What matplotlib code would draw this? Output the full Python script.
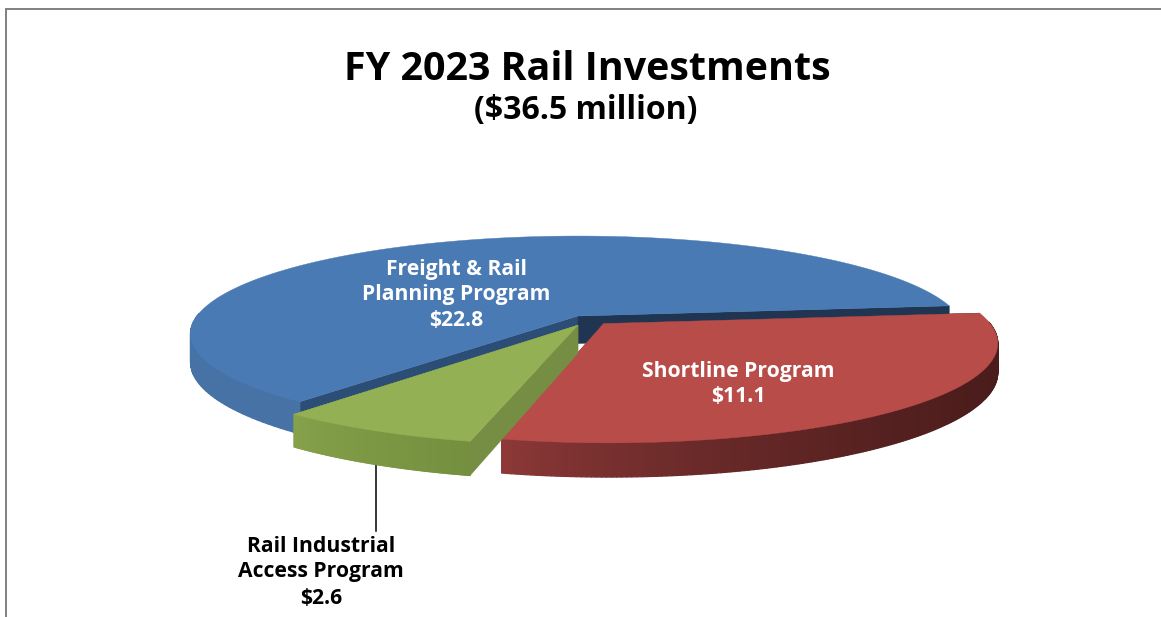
"""
Rail investments as an exploded 3D looking pie chart.
"""

import numpy as np
import matplotlib.pyplot as plt
from matplotlib.collections import PolyCollection
from matplotlib.colors import to_rgb
from matplotlib.patches import Polygon

title = "FY 2023 Rail Investments"
subtitle = "($36.5 million)"

# Data, clockwise from the right hand cut of the blue slice
categories = ["Shortline Program", "Rail Industrial\nAccess Program", "Freight & Rail\nPlanning Program"]
values = [11.1, 2.6, 22.8]

# Pie geometry in figure pixels
cx, cy = 578, 316
rx, ry = 381, 94.5
depth = 5.5      # perspective distance, in pie radii
thick = 27.5
start_angle = -6.3

offsets = [(0.066, 0.079), (0.0, 0.095), (0.0, 0.0)]
top_colors = ["#B84C49", "#93B054", "#4A7AB4"]
wall_start = ["#8F3A39", "#87A24B", "#4672A6"]
wall_end = ["#4A1C1B", "#74903F", "#4672A6"]
start_wall = ["#4A1C1B", "#768E44", "#2C4D75"]
end_wall = ["#4A1C1B", "#768E44", "#1F3552"]


def project(x, y, z=0.0):
    """Plan position (y towards the viewer) to figure pixels."""
    f = depth / (depth - y)
    return cx + rx * x * f, cy + ry * y * f + z * f


def slice_xy(a0, a1, off):
    t = np.radians(np.linspace(a0, a1, 180))
    return np.cos(t) + off[0], np.sin(t) + off[1], t


def draw_cut(ax, angle, off, color, zorder):
    # Flat wall running from the apex to the rim
    t = np.radians(angle)
    ax0, ay0 = project(off[0], off[1])
    bx0, by0 = project(np.cos(t) + off[0], np.sin(t) + off[1])
    ax1, ay1 = project(off[0], off[1], thick)
    bx1, by1 = project(np.cos(t) + off[0], np.sin(t) + off[1], thick)
    ax.add_patch(Polygon([(ax0, ay0), (bx0, by0), (bx1, by1), (ax1, ay1)],
                         closed=True, facecolor=color, edgecolor=color, lw=0.3, zorder=zorder))


def draw_slice(ax, a0, a1, off, i):
    base = 3 * i if i != 2 else 0
    xs, ys, t = slice_xy(a0, a1, off)

    # Cut faces go first, the rim and the top hide the parts that face away
    draw_cut(ax, a0, off, start_wall[i], base + 0.5)
    draw_cut(ax, a1, off, end_wall[i], base + 0.5)

    # Outer wall, one small strip per step so the shade can change along the rim
    px, py = project(xs, ys)
    qx, qy = project(xs, ys, thick)
    strips, shades = [], []
    c0, c1 = np.array(to_rgb(wall_start[i])), np.array(to_rgb(wall_end[i]))
    xmin, xmax = px.min(), px.max()
    for k in range(len(xs) - 1):
        if np.sin(t[k]) < -0.02:
            continue  # back of the rim is not visible
        strips.append([(px[k], py[k]), (px[k + 1], py[k + 1]), (qx[k + 1], qy[k + 1]), (qx[k], qy[k])])
        w = ((px[k] - xmin) / (xmax - xmin)) ** 0.7
        shades.append(c0 + (c1 - c0) * w)
    ax.add_collection(PolyCollection(strips, facecolors=shades, edgecolors=shades, linewidths=0.9, zorder=base + 1))

    # Top face
    apex = project(off[0], off[1])
    ax.add_patch(Polygon([apex] + list(zip(px, py)), closed=True, facecolor=top_colors[i],
                         edgecolor=top_colors[i], lw=0.3, zorder=base + 2))


fig = plt.figure(figsize=(11.61, 6.17), dpi=100)
ax = fig.add_axes([0, 0, 1, 1])
ax.set_xlim(0, 1161)
ax.set_ylim(617, 0)
ax.axis("off")

plt.rcParams["font.family"] = ["Open Sans", "DejaVu Sans"]

# Chart frame, only top and left are inside the crop
ax.plot([5.5, 5.5, 1161], [617, 8.5, 8.5], color="#808080", lw=1.4, solid_joinstyle="miter", zorder=0)

angle = start_angle
total = sum(values)
for i, v in enumerate(values):
    span = 360 * v / total
    draw_slice(ax, angle, angle + span, offsets[i], i)
    angle += span

# Leader line for the small slice
ax.plot([376, 376], [463, 531], color="black", lw=1.1, zorder=1)

ax.text(587.5, 70, title, ha="center", va="center", fontsize=28.4, fontweight="bold", color="black")
ax.text(585.5, 111, subtitle, ha="center", va="center", fontsize=23, fontweight="bold", color="black")

label_style = dict(ha="center", va="center", fontsize=15.2, fontweight="bold", zorder=20, linespacing=1.25)
ax.text(456, 282, categories[2], color="white", **label_style)
ax.text(456, 321, f"${values[2]}", color="white", **label_style)
ax.text(738, 371, categories[0], color="white", **label_style)
ax.text(738, 397, f"${values[0]}", color="white", **label_style)
ax.text(321, 559, categories[1], color="black", **label_style)
ax.text(321, 598, f"${values[1]}", color="black", **label_style)

fig.savefig("out.png", dpi=100)
